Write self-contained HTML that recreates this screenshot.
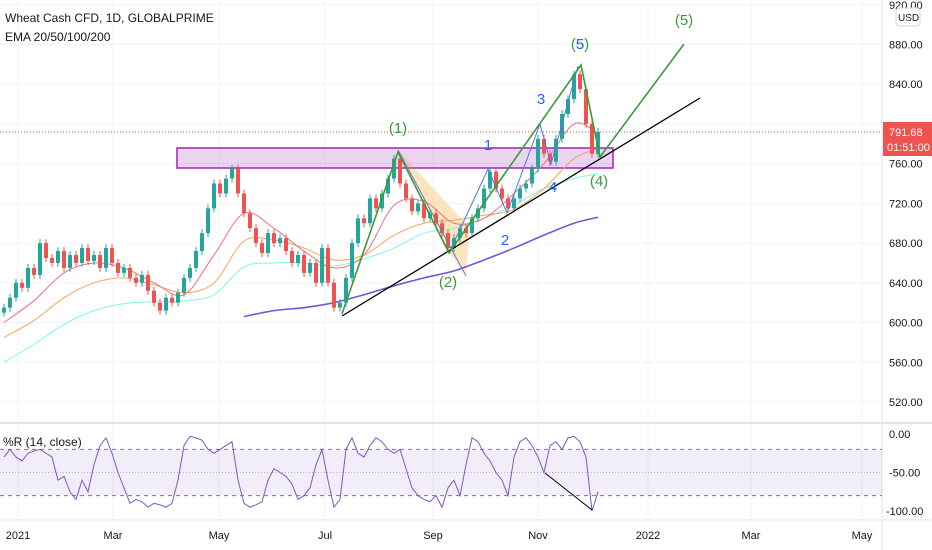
<!DOCTYPE html>
<html><head><meta charset="utf-8"><style>
body{margin:0;background:#fff;font-family:"Liberation Sans",sans-serif;}
svg{display:block}
text{font-family:"Liberation Sans",sans-serif}
</style></head><body>
<svg id="c" width="932" height="550" xmlns="http://www.w3.org/2000/svg"></svg>
<script>
const closes=[615,625,640,635,655,648,680,665,660,672,655,668,660,675,662,668,655,675,660,650,655,645,640,648,632,620,612,625,620,630,645,655,672,690,715,740,730,745,755,730,710,695,680,670,690,680,685,672,660,668,650,660,640,675,640,615,620,645,680,705,700,725,715,730,745,765,740,725,712,720,705,710,700,690,675,685,695,690,705,715,735,752,735,725,715,725,735,740,755,785,770,762,785,810,825,850,835,800,770,792];
const ema20=[600,622,650,660,655,640,628,668,710,695,672,655,668,718,722,700,705,730,760,800,790];
const ema50=[585,602,625,640,645,638,630,640,682,683,675,663,668,688,700,703,708,714,735,765,775];
const ema100=[560,578,598,612,619,621,622,628,656,660,660,657,664,675,690,695,705,718,735,745,750];
const ema200=[null,null,null,null,null,null,null,null,606,612,615,620,628,637,645,652,663,675,688,700,706];
const willR=[-30,-20,-30,-35,-25,-22,-20,-25,-30,-60,-55,-75,-85,-60,-75,-40,-15,-5,-25,-50,-70,-90,-85,-88,-95,-90,-92,-95,-90,-60,-15,-3,-5,-8,-20,-25,-20,-15,-10,-60,-90,-95,-92,-88,-60,-45,-50,-55,-65,-85,-80,-70,-40,-20,-60,-95,-85,-20,-5,-25,-30,-15,-5,-10,-20,-25,-20,-45,-70,-80,-85,-88,-80,-95,-70,-60,-80,-40,-5,-10,-25,-35,-50,-60,-80,-30,-10,-5,-15,-30,-50,-15,-10,-20,-5,-3,-10,-30,-100,-75];
const priceTicks=[920,880,840,800,760,720,680,640,600,560,520];
const rTicks=[0,-50,-100];
const monthLabels=["2021","Mar","May","Jul","Sep","Nov","2022","Mar","May"];
const monthX=[18,113,219,325,433,538,648,751,862];

const svg=document.getElementById('c');const NS='http://www.w3.org/2000/svg';
function el(t,a,p){const e=document.createElementNS(NS,t);for(const k in a)e.setAttribute(k,a[k]);(p||svg).appendChild(e);return e;}
const X=i=>4+i*6;
const Y=v=>44.5+(880-v)*0.993;
const RY=v=>434+(-v)*0.77;
const PW=882;
function smooth(pts){if(pts.length<2)return '';let d='M'+pts[0][0]+','+pts[0][1];
for(let i=0;i<pts.length-1;i++){const p0=pts[i-1]||pts[i],p1=pts[i],p2=pts[i+1],p3=pts[i+2]||p2;
const c1=[p1[0]+(p2[0]-p0[0])/6,p1[1]+(p2[1]-p0[1])/6],c2=[p2[0]-(p3[0]-p1[0])/6,p2[1]-(p3[1]-p1[1])/6];
d+='C'+c1[0]+','+c1[1]+' '+c2[0]+','+c2[1]+' '+p2[0]+','+p2[1];}return d;}
priceTicks.forEach(v=>{const g=el('line',{x1:0,x2:PW,y1:Y(v),y2:Y(v),stroke:'#f0f3fa'});
});
monthX.forEach(x=>{const g=el('line',{x1:x,x2:x,y1:0,y2:520,stroke:'#f0f3fa'});
});
let z=el('rect',{x:177,y:148,width:436,height:20,fill:'rgba(156,39,176,0.2)',stroke:'#9c27b0','stroke-width':1.5});

let tri=el('polygon',{points:'398,150 470,228 466,275 449,253',fill:'rgba(255,152,0,0.25)'});

function emaLine(arr,color,name){const pts=[];arr.forEach((v,k)=>{if(v==null)return;const i=Math.min(k*5,99);pts.push([X(i),Y(v)]);});
const p=el('path',{d:smooth(pts),fill:'none',stroke:color,'stroke-width':name==='ema200'?1.6:1});
}
emaLine(ema100,'#7ff5ec','ema100');emaLine(ema200,'#6a5ad8','ema200');emaLine(ema50,'#f7a35c','ema50');emaLine(ema20,'#f06f7a','ema20');
closes.forEach((c,i)=>{const o=i?closes[i-1]:c-5;const up=c>=o;const col=up?'#26a69a':'#ef5350';
const hi=Math.max(o,c)+4,lo=Math.min(o,c)-4;
const w=el('line',{x1:X(i),x2:X(i),y1:Y(hi),y2:Y(lo),stroke:col});

const b=el('rect',{x:X(i)-2,y:Y(Math.max(o,c)),width:4,height:Math.max(1,Math.abs(c-o)*0.993),fill:col});
});
function pl(pts,col,w,name){const p=el('polyline',{points:pts,fill:'none',stroke:col,'stroke-width':w});}
pl('398,150 466,276','#5b7bd5',1,'channel-line-upper');
pl('449,253 488,169 507,213 540,124 551,164 578,66','#4a7be0',1,'minor-wave-path');
pl('342,316 700,98','#000',1.3,'trendline');
pl('342,314 398,152 449,253 581,65 600,157 684,44','#3a9b3a',1.6,'elliott-wave-path');
pl('0,132 882,132','#e05050',1,'last-price-line');svg.lastChild.setAttribute('stroke-dasharray','1,2');
function lab(x,y,t,col,name,sz){const e=el('text',{x:x,y:y,fill:col,'font-size':sz||15,'text-anchor':'middle'});e.textContent=t;}
lab(398,133,'(1)','#3a9b3a','wave-1-label');lab(448,287,'(2)','#3a9b3a','wave-2-label');lab(599,186,'(4)','#3a9b3a','wave-4-label');lab(684,25,'(5)','#3a9b3a','wave-5-target-label');
lab(580,49,'(5)','#3a9b3a','wave-5-label');lab(580,49,'5','#2962ff','minor-5-label');
lab(488,150,'1','#2962ff','minor-1-label');lab(505,245,'2','#2962ff','minor-2-label');lab(541,104,'3','#2962ff','minor-3-label');lab(553,192,'4','#2962ff','minor-4-label');
el('line',{x1:0,x2:932,y1:423,y2:423,stroke:'#e0e3eb','stroke-width':2});
el('line',{x1:0,x2:932,y1:520,y2:520,stroke:'#e0e3eb'});
el('line',{x1:882,x2:882,y1:0,y2:550,stroke:'#e0e3eb'});
priceTicks.forEach(v=>{if(v===800)return;const t=el('text',{x:889,y:Y(v)+4,'font-size':11,fill:'#131722'});t.textContent=v.toFixed(2);
});
let ub=el('rect',{x:896,y:8,width:24,height:18,rx:3,fill:'#fff',stroke:'#d1d4dc'});
let ut=el('text',{x:898,y:21,'font-size':10,fill:'#131722'});ut.textContent='USD';
let pb=el('rect',{x:883,y:122,width:49,height:34,fill:'#ef5350'});
let p1=el('text',{x:889,y:136,'font-size':11,fill:'#fff'});p1.textContent='791.68';
let p2=el('text',{x:887,y:151,'font-size':11,fill:'#fff'});p2.textContent='01:51:00';
let band=el('rect',{x:0,y:RY(-20),width:PW,height:RY(-80)-RY(-20),fill:'rgba(126,87,194,0.1)'});
[-20,-80].forEach(v=>{const l=el('line',{x1:0,x2:PW,y1:RY(v),y2:RY(v),stroke:'#787b86','stroke-dasharray':'4,4'});});
let ml=el('line',{x1:0,x2:PW,y1:RY(-50),y2:RY(-50),stroke:'#b2b5be','stroke-dasharray':'1,2'});
let rd='';willR.forEach((v,i)=>{rd+=(i?'L':'M')+X(i)+','+RY(v);});
let rp=el('path',{d:rd,fill:'none',stroke:'#7e57c2','stroke-width':1});
pl('545,473 592,510','#000',1,'divergence-line');
rTicks.forEach(v=>{const t=el('text',{x:v===-100?886:889,y:RY(v)+4,'font-size':11,fill:'#131722'});t.textContent=v.toFixed(2);});
monthLabels.forEach((m,k)=>{const t=el('text',{x:monthX[k],y:539,'font-size':11,fill:'#131722','text-anchor':'middle'});t.textContent=m;});
let t1=el('text',{x:5,y:22,'font-size':12,fill:'#131722'});t1.textContent='Wheat Cash CFD, 1D, GLOBALPRIME';
let t2=el('text',{x:5,y:41,'font-size':12,fill:'#131722'});t2.textContent='EMA 20/50/100/200';
let t3=el('text',{x:3,y:446,'font-size':12,fill:'#131722'});t3.textContent='%R (14, close)';
</script>
</body></html>
